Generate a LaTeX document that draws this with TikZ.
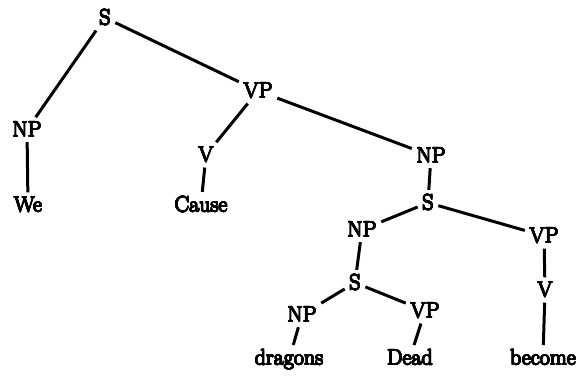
\documentclass[tikz,border=0pt]{standalone}
\usepackage{contour}
\contourlength{0.5pt}
\contournumber{16}
\begin{document}
\begin{tikzpicture}[x=1pt,y=-1pt,
  lbl/.style={anchor=base,inner sep=4.5pt,font=\fontsize{22}{26}\selectfont},
  edge/.style={line width=3pt}]
\newcommand{\heavytext}[1]{\contour{black}{#1}}
\useasboundingbox (0,0) rectangle (579,379);
% nodes (base line positions)
\node[lbl] (s1) at (105,25) {\heavytext{S}};
\node[lbl] (vp1) at (258,98) {\heavytext{VP}};
\node[lbl] (np1) at (27,137) {\heavytext{NP}};
\node[lbl] (v1) at (206,162) {\heavytext{V}};
\node[lbl] (we) at (28,212) {\heavytext{We}};
\node[lbl] (cause) at (201,212) {\heavytext{Cause}};
\node[lbl] (np2) at (431,163) {\heavytext{NP}};
\node[lbl] (s2) at (428,210) {\heavytext{S}};
\node[lbl] (np3) at (362,237) {\heavytext{NP}};
\node[lbl] (vp2) at (544,243) {\heavytext{VP}};
\node[lbl] (s3) at (355,290) {\heavytext{S}};
\node[lbl] (v2) at (545,297) {\heavytext{V}};
\node[lbl] (np4) at (302,322) {\heavytext{NP}};
\node[lbl] (vp3) at (425,318) {\heavytext{VP}};
\node[lbl] (dragons) at (289,365) {\heavytext{dragons}};
\node[lbl] (dead) at (410,365) {\heavytext{Dead}};
\node[lbl] (become) at (543,365) {\heavytext{become}};
% edges
\draw[edge] (s1) -- (np1);
\draw[edge] (s1) -- (vp1);
\draw[edge] (vp1) -- (v1);
\draw[edge] (vp1) -- (np2);
\draw[edge] (np1) -- (we);
\draw[edge] (v1) -- (cause);
\draw[edge] (np2) -- (s2);
\draw[edge] (s2) -- (np3);
\draw[edge] (s2) -- (vp2);
\draw[edge] (np3) -- (s3);
\draw[edge] (vp2) -- (v2);
\draw[edge] (s3) -- (np4);
\draw[edge] (s3) -- (vp3);
\draw[edge] (np4) -- (dragons);
\draw[edge] (vp3) -- (dead);
\draw[edge] (v2) -- (become);
\end{tikzpicture}
\end{document}
